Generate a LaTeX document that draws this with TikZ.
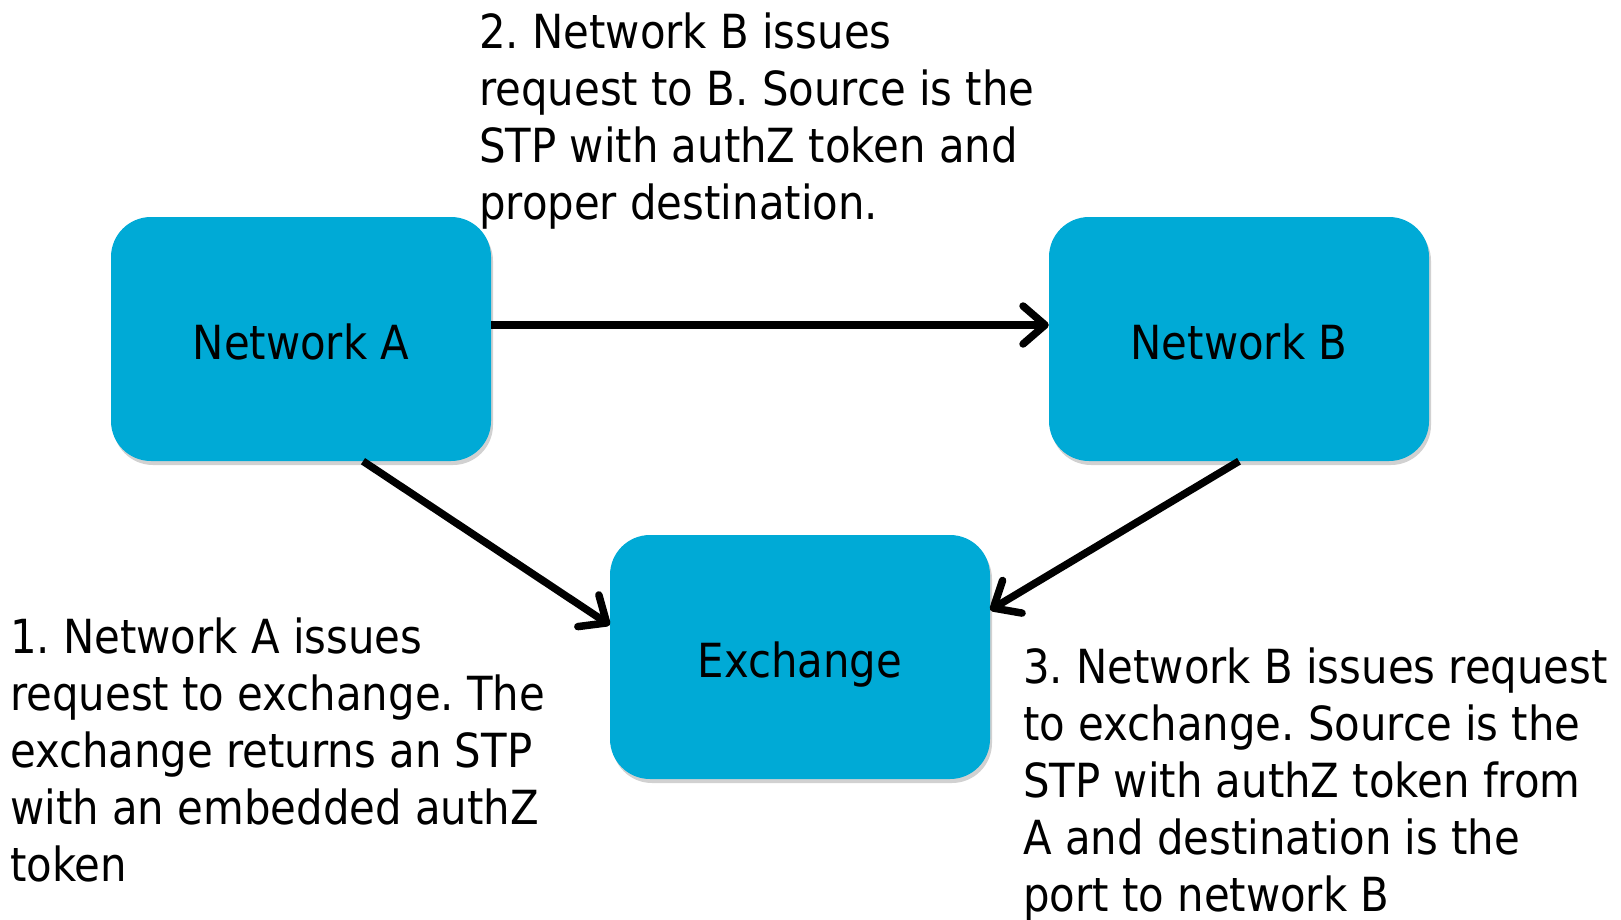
\documentclass[tikz,border=0pt]{standalone}
\usepackage{fontspec}
\setmainfont{DejaVu Sans}[FakeStretch=0.89]
\usetikzlibrary{arrows.meta,shadows}
\definecolor{boxblue}{RGB}{0,170,214}
\tikzset{
  netbox/.style={draw=none, fill=boxblue, rounded corners=40pt, minimum width=380pt, minimum height=244pt,
    inner sep=0pt, text height=40pt, text depth=0pt, font=\fontsize{47}{57}\selectfont,
    drop shadow={shadow xshift=2pt, shadow yshift=-4pt, opacity=0.3, fill=black!60}},
  note/.style={anchor=base west, align=left, inner sep=0pt, font=\fontsize{47}{57}\selectfont\frenchspacing},
  link/.style={line width=7.5pt, -{Straight Barb[length=22pt, width=38pt, round]}}
}
\begin{document}
\begin{tikzpicture}[x=1pt,y=-1pt]
\useasboundingbox (0,0) rectangle (1621,920);
\node[netbox] (NA) at (301,339) {Network A};
\node[netbox] (NB) at (1239,339) {Network B};
\node[netbox] (EX) at (800,657) {Exchange};
\draw[link] ([yshift=14pt]NA.east) -- ([yshift=14pt]NB.west);
\draw[link] ([xshift=62pt]NA.south) -- ([yshift=32pt]EX.west);
\draw[link] (NB.south) -- ([yshift=47pt]EX.east);
\node[note] (T2) at (479,219) {2. Network B issues\\request to B. Source is the\\STP with authZ token and\\proper destination.};
\node[note] (T1) at (10,881) {1. Network A issues\\request to exchange. The\\exchange returns an STP\\with an embedded authZ\\token};
\node[note] (T3) at (1023,911) {3. Network B issues request\\to exchange. Source is the\\STP with authZ token from\\A and destination is the\\port to network B};
\end{tikzpicture}
\end{document}
